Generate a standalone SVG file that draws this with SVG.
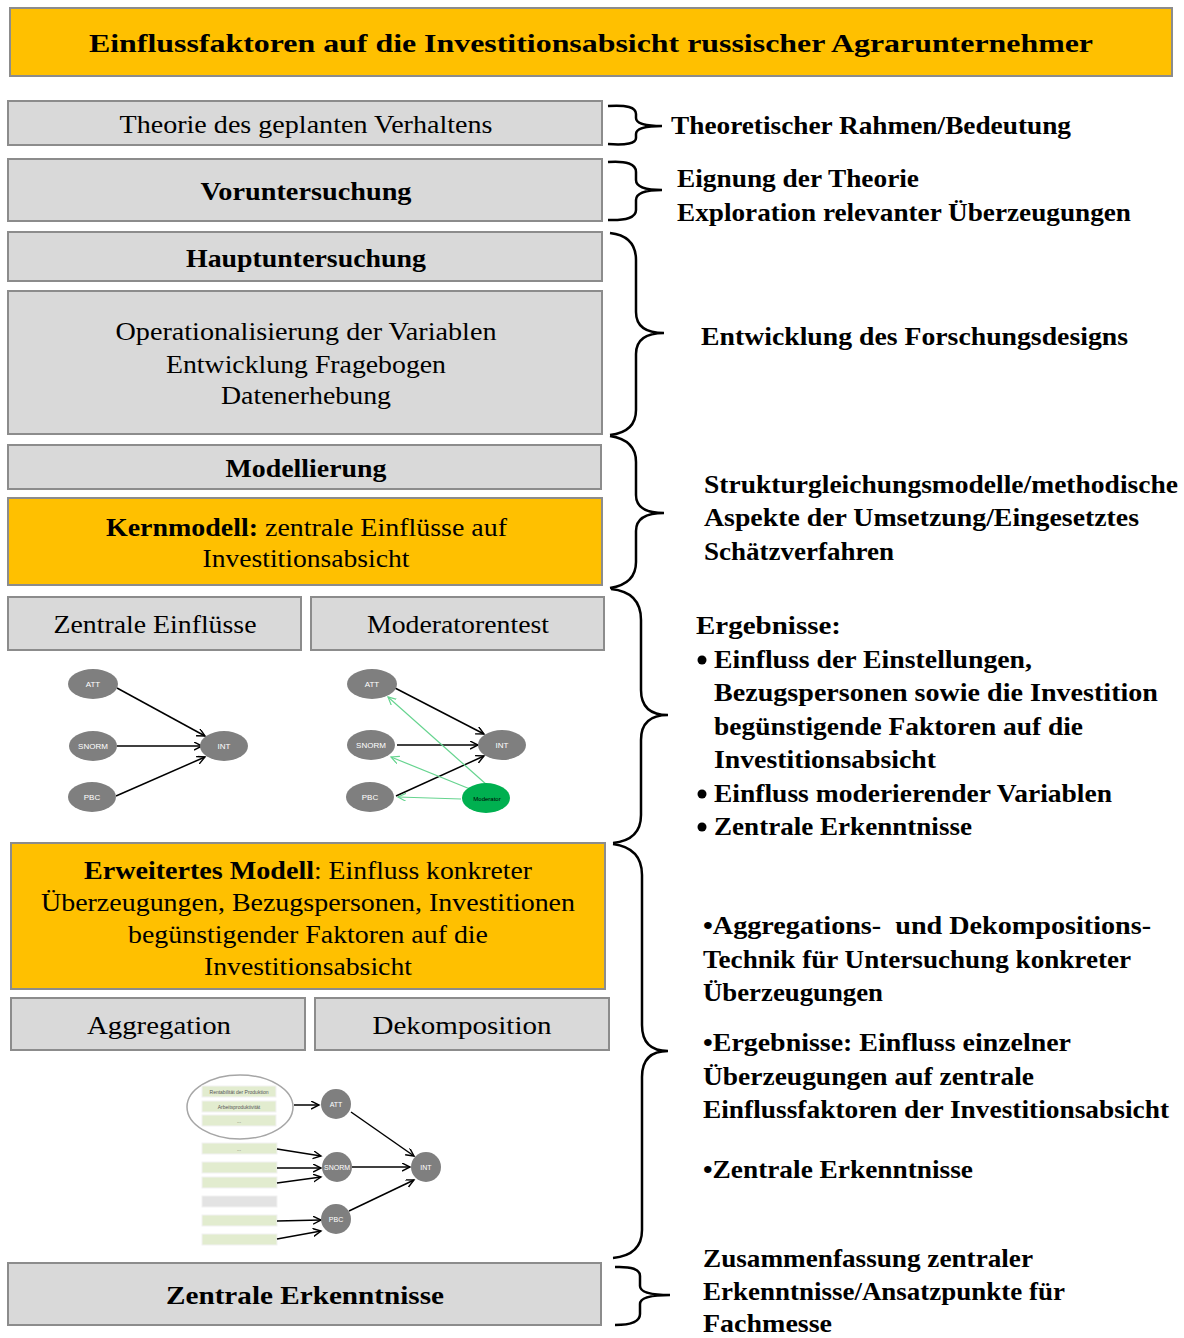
<svg xmlns="http://www.w3.org/2000/svg" width="1184" height="1338" viewBox="0 0 1184 1338">
<style>
  .box{fill:#D9D9D9;stroke:#8C8C8C;stroke-width:2}
  .obox{fill:#FFC000;stroke:#8C8C8C;stroke-width:2}
  .lt{font-family:"Liberation Serif","Times New Roman",serif;font-size:26px;fill:#000;text-anchor:middle}
  .b{font-weight:bold}
  .rt{font-family:"Liberation Serif","Times New Roman",serif;font-size:26px;font-weight:bold;fill:#000}
  .brace{fill:none;stroke:#000;stroke-width:2.5}
  .node{fill:#7F7F7F}
  .nt{font-family:"Liberation Sans",Arial,sans-serif;font-size:8px;fill:#fff;text-anchor:middle}
  .arr{stroke:#000;stroke-width:1.5;fill:none;marker-end:url(#ah)}
  .garr{stroke:#66D48F;stroke-width:1.2;fill:none;marker-end:url(#gah)}
  .gb{fill:#E2ECCF;stroke:#F2F2F2;stroke-width:1}
  .gt{font-family:"Liberation Sans",Arial,sans-serif;font-size:5px;fill:#555;text-anchor:middle}
</style>
<defs>
  <marker id="ah" markerWidth="10" markerHeight="10" refX="8" refY="4" orient="auto" markerUnits="userSpaceOnUse">
    <path d="M0,0 L8,4 L0,8" fill="none" stroke="#000" stroke-width="1.4"/>
  </marker>
  <marker id="gah" markerWidth="10" markerHeight="10" refX="8" refY="4" orient="auto" markerUnits="userSpaceOnUse">
    <path d="M0,0 L8,4 L0,8" fill="none" stroke="#66D48F" stroke-width="1.2"/>
  </marker>
</defs>
<rect width="1184" height="1338" fill="#fff"/>

<!-- title -->
<g id="title">
  <rect x="10" y="8" width="1162" height="68" class="obox"/>
  <text x="591" y="52" class="lt b" font-size="28" textLength="1004" lengthAdjust="spacingAndGlyphs">Einflussfaktoren auf die Investitionsabsicht russischer Agrarunternehmer</text>
</g>

<!-- left column -->
<g id="theorie">
  <rect x="8" y="101" width="594" height="44" class="box"/>
  <text x="306" y="133" class="lt" textLength="373" lengthAdjust="spacingAndGlyphs">Theorie des geplanten Verhaltens</text>
</g>
<g id="voruntersuchung">
  <rect x="8" y="159" width="594" height="62" class="box"/>
  <text x="306" y="200" class="lt b" textLength="211" lengthAdjust="spacingAndGlyphs">Voruntersuchung</text>
</g>
<g id="hauptuntersuchung">
  <rect x="8" y="232" width="594" height="49" class="box"/>
  <text x="306" y="267" class="lt b" textLength="240" lengthAdjust="spacingAndGlyphs">Hauptuntersuchung</text>
</g>
<g id="operationalisierung">
  <rect x="8" y="291" width="594" height="143" class="box"/>
  <text x="306" y="340" class="lt" textLength="381" lengthAdjust="spacingAndGlyphs">Operationalisierung der Variablen</text>
  <text x="306" y="373" class="lt" textLength="280" lengthAdjust="spacingAndGlyphs">Entwicklung Fragebogen</text>
  <text x="306" y="404" class="lt" textLength="170" lengthAdjust="spacingAndGlyphs">Datenerhebung</text>
</g>
<g id="modellierung">
  <rect x="8" y="445" width="593" height="44" class="box"/>
  <text x="306" y="477" class="lt b" textLength="161" lengthAdjust="spacingAndGlyphs">Modellierung</text>
</g>
<g id="kernmodell">
  <rect x="8" y="498" width="594" height="87" class="obox"/>
  <text x="106" y="536" class="lt b" style="text-anchor:start" textLength="152" lengthAdjust="spacingAndGlyphs">Kernmodell:</text>
  <text x="265" y="536" class="lt" style="text-anchor:start" textLength="242" lengthAdjust="spacingAndGlyphs">zentrale Einflüsse auf</text>
  <text x="306" y="567" class="lt" textLength="207" lengthAdjust="spacingAndGlyphs">Investitionsabsicht</text>
</g>
<g id="zentrale-einfluesse">
  <rect x="8" y="597" width="293" height="53" class="box"/>
  <text x="155" y="633" class="lt" textLength="203" lengthAdjust="spacingAndGlyphs">Zentrale Einflüsse</text>
</g>
<g id="moderatorentest">
  <rect x="311" y="597" width="293" height="53" class="box"/>
  <text x="458" y="633" class="lt" textLength="182" lengthAdjust="spacingAndGlyphs">Moderatorentest</text>
</g>

<!-- core model sketch -->
<g id="kern-graph">
  <g class="connectors">
    <line x1="117" y1="688" x2="205" y2="736" class="arr"/>
    <line x1="117" y1="746" x2="202" y2="746" class="arr"/>
    <line x1="116" y1="796" x2="205" y2="757" class="arr"/>
  </g>
  <g id="k-att"><ellipse cx="93" cy="684" rx="25" ry="15" class="node"/><text x="93" y="687" class="nt">ATT</text></g>
  <g id="k-snorm"><ellipse cx="93" cy="746" rx="24" ry="15" class="node"/><text x="93" y="749" class="nt">SNORM</text></g>
  <g id="k-pbc"><ellipse cx="92" cy="797" rx="24" ry="15" class="node"/><text x="92" y="800" class="nt">PBC</text></g>
  <g id="k-int"><ellipse cx="224" cy="746" rx="24" ry="15" class="node"/><text x="224" y="749" class="nt">INT</text></g>
</g>

<!-- moderator sketch -->
<g id="mod-graph">
  <g class="connectors">
    <line x1="395" y1="688" x2="484" y2="734" class="arr"/>
    <line x1="397" y1="745" x2="478" y2="745" class="arr"/>
    <line x1="396" y1="796" x2="484" y2="756" class="arr"/>
    <line x1="487" y1="785" x2="388" y2="697" class="garr"/>
    <line x1="470" y1="789" x2="391" y2="757" class="garr"/>
    <line x1="461" y1="799" x2="398" y2="797" class="garr"/>
  </g>
  <g id="m-att"><ellipse cx="372" cy="684" rx="25" ry="15" class="node"/><text x="372" y="687" class="nt">ATT</text></g>
  <g id="m-snorm"><ellipse cx="371" cy="745" rx="24" ry="15" class="node"/><text x="371" y="748" class="nt">SNORM</text></g>
  <g id="m-pbc"><ellipse cx="370" cy="797" rx="24" ry="15" class="node"/><text x="370" y="800" class="nt">PBC</text></g>
  <g id="m-int"><ellipse cx="502" cy="745" rx="24" ry="15" class="node"/><text x="502" y="748" class="nt">INT</text></g>
  <g id="m-moderator"><ellipse cx="486" cy="798" rx="24" ry="15" fill="#00B050"/><text x="487" y="800.5" class="nt" style="fill:#000;font-size:6px">Moderator</text></g>
</g>

<g id="erweitertes-modell">
  <rect x="11" y="843" width="594" height="146" class="obox"/>
  <text x="84" y="879" class="lt b" style="text-anchor:start" textLength="230" lengthAdjust="spacingAndGlyphs">Erweitertes Modell</text>
  <text x="314" y="879" class="lt" style="text-anchor:start" textLength="218" lengthAdjust="spacingAndGlyphs">: Einfluss konkreter</text>
  <text x="308" y="911" class="lt" textLength="534" lengthAdjust="spacingAndGlyphs">Überzeugungen, Bezugspersonen, Investitionen</text>
  <text x="308" y="943" class="lt" textLength="360" lengthAdjust="spacingAndGlyphs">begünstigender Faktoren auf die</text>
  <text x="308" y="975" class="lt" textLength="208" lengthAdjust="spacingAndGlyphs">Investitionsabsicht</text>
</g>
<g id="aggregation">
  <rect x="11" y="998" width="294" height="52" class="box"/>
  <text x="159" y="1034" class="lt" textLength="144" lengthAdjust="spacingAndGlyphs">Aggregation</text>
</g>
<g id="dekomposition">
  <rect x="315" y="998" width="294" height="52" class="box"/>
  <text x="462" y="1034" class="lt" textLength="179" lengthAdjust="spacingAndGlyphs">Dekomposition</text>
</g>

<!-- extended model sketch -->
<g id="ext-graph">
  <ellipse cx="240" cy="1107" rx="53" ry="32" fill="#fff" stroke="#A6A6A6" stroke-width="1.5"/>
  <rect x="202" y="1086" width="74" height="11" class="gb"/><text x="239" y="1093.5" class="gt">Rentabilität der Produktion</text>
  <rect x="202" y="1101" width="74" height="11" class="gb"/><text x="239" y="1108.5" class="gt">Arbeitsproduktivität</text>
  <rect x="202" y="1115" width="74" height="11" class="gb"/><text x="239" y="1122.5" class="gt">...</text>
  <rect x="202" y="1143" width="75" height="11" class="gb"/><text x="239" y="1150.5" class="gt">...</text>
  <rect x="202" y="1162" width="75" height="11" class="gb"/>
  <rect x="202" y="1177" width="75" height="11" class="gb"/>
  <rect x="202" y="1196" width="75" height="11" fill="#E3E3E3" stroke="#F2F2F2"/>
  <rect x="202" y="1215" width="75" height="11" class="gb"/>
  <rect x="202" y="1234" width="75" height="11" class="gb"/>
  <g class="connectors">
    <line x1="294" y1="1105" x2="319" y2="1105" class="arr"/>
    <line x1="277" y1="1149" x2="321" y2="1156" class="arr"/>
    <line x1="277" y1="1168" x2="321" y2="1168" class="arr"/>
    <line x1="277" y1="1183" x2="321" y2="1177" class="arr"/>
    <line x1="277" y1="1221" x2="321" y2="1220" class="arr"/>
    <line x1="277" y1="1239" x2="321" y2="1231" class="arr"/>
    <line x1="351" y1="1112" x2="414" y2="1156" class="arr"/>
    <line x1="352" y1="1167" x2="410" y2="1167" class="arr"/>
    <line x1="349" y1="1211" x2="414" y2="1180" class="arr"/>
  </g>
  <g id="e-att"><circle cx="336" cy="1104" r="15" class="node"/><text x="336" y="1107" class="nt" style="font-size:7px">ATT</text></g>
  <g id="e-snorm"><circle cx="337" cy="1167" r="15" class="node"/><text x="337" y="1170" class="nt" style="font-size:7px">SNORM</text></g>
  <g id="e-pbc"><circle cx="336" cy="1219" r="15" class="node"/><text x="336" y="1222" class="nt" style="font-size:7px">PBC</text></g>
  <g id="e-int"><circle cx="426" cy="1167" r="15" class="node"/><text x="426" y="1170" class="nt" style="font-size:7px">INT</text></g>
</g>

<g id="zentrale-erkenntnisse">
  <rect x="8" y="1263" width="593" height="62" class="box"/>
  <text x="305" y="1304" class="lt b" textLength="278" lengthAdjust="spacingAndGlyphs">Zentrale Erkenntnisse</text>
</g>

<!-- braces -->
<g id="braces">
  <path class="brace" d="M608,106 Q636,104 636,114 L636,118 Q636,126 662,126 Q636,126 636,134 L636,138 Q636,146 608,144"/>
  <path class="brace" d="M608,162 Q636,160 636,172 L636,180 Q636,190 662,190 Q636,190 636,200 L636,210 Q636,221 608,220"/>
  <path class="brace" d="M610,233 Q636,236 636,260 L636,312 Q636,333 664,333 Q636,333 636,354 L636,410 Q636,432 610,435"/>
  <path class="brace" d="M610,436 Q636,440 636,462 L636,495 Q636,513 664,513 Q636,513 636,531 L636,562 Q636,584 610,588"/>
  <path class="brace" d="M611,589 Q641,592 641,620 L641,690 Q641,715 668,715 Q641,715 641,740 L641,815 Q641,840 613,843"/>
  <path class="brace" d="M613,844 Q642,848 642,875 L642,1025 Q642,1051 668,1051 Q642,1051 642,1077 L642,1230 Q642,1255 613,1258"/>
  <path class="brace" d="M615,1267 Q640,1266 640,1276 L640,1286 Q640,1295 670,1295 Q640,1295 640,1304 L640,1314 Q640,1325 615,1325"/>
</g>

<!-- right-hand notes -->
<g id="notes">
  <text x="671" y="134" class="rt" textLength="400" lengthAdjust="spacingAndGlyphs">Theoretischer Rahmen/Bedeutung</text>
  <text x="677" y="187" class="rt" textLength="242" lengthAdjust="spacingAndGlyphs">Eignung der Theorie</text>
  <text x="677" y="221" class="rt" textLength="454" lengthAdjust="spacingAndGlyphs">Exploration relevanter Überzeugungen</text>
  <text x="701" y="345" class="rt" textLength="427" lengthAdjust="spacingAndGlyphs">Entwicklung des Forschungsdesigns</text>
  <text x="704" y="493" class="rt" textLength="474" lengthAdjust="spacingAndGlyphs">Strukturgleichungsmodelle/methodische</text>
  <text x="704" y="526" class="rt" textLength="435" lengthAdjust="spacingAndGlyphs">Aspekte der Umsetzung/Eingesetztes</text>
  <text x="704" y="560" class="rt" textLength="190" lengthAdjust="spacingAndGlyphs">Schätzverfahren</text>
  <text x="696" y="634" class="rt" textLength="145" lengthAdjust="spacingAndGlyphs">Ergebnisse:</text>
  <circle cx="702" cy="660" r="4.5"/>
  <text x="714" y="668" class="rt" textLength="318" lengthAdjust="spacingAndGlyphs">Einfluss der Einstellungen,</text>
  <text x="714" y="701" class="rt" textLength="444" lengthAdjust="spacingAndGlyphs">Bezugspersonen sowie die Investition</text>
  <text x="714" y="735" class="rt" textLength="369" lengthAdjust="spacingAndGlyphs">begünstigende Faktoren auf die</text>
  <text x="714" y="768" class="rt" textLength="222" lengthAdjust="spacingAndGlyphs">Investitionsabsicht</text>
  <circle cx="702" cy="794" r="4.5"/>
  <text x="714" y="802" class="rt" textLength="398" lengthAdjust="spacingAndGlyphs">Einfluss moderierender Variablen</text>
  <circle cx="702" cy="827" r="4.5"/>
  <text x="714" y="835" class="rt" textLength="258" lengthAdjust="spacingAndGlyphs">Zentrale Erkenntnisse</text>
  <text x="703" y="934" class="rt" textLength="448" lengthAdjust="spacingAndGlyphs" xml:space="preserve">•Aggregations-  und Dekompositions-</text>
  <text x="703" y="968" class="rt" textLength="428" lengthAdjust="spacingAndGlyphs">Technik für Untersuchung konkreter</text>
  <text x="703" y="1001" class="rt" textLength="180" lengthAdjust="spacingAndGlyphs">Überzeugungen</text>
  <text x="703" y="1051" class="rt" textLength="368" lengthAdjust="spacingAndGlyphs">•Ergebnisse: Einfluss einzelner</text>
  <text x="703" y="1085" class="rt" textLength="331" lengthAdjust="spacingAndGlyphs">Überzeugungen auf zentrale</text>
  <text x="703" y="1118" class="rt" textLength="466" lengthAdjust="spacingAndGlyphs">Einflussfaktoren der Investitionsabsicht</text>
  <text x="703" y="1178" class="rt" textLength="270" lengthAdjust="spacingAndGlyphs">•Zentrale Erkenntnisse</text>
  <text x="703" y="1267" class="rt" textLength="330" lengthAdjust="spacingAndGlyphs">Zusammenfassung zentraler</text>
  <text x="703" y="1300" class="rt" textLength="362" lengthAdjust="spacingAndGlyphs">Erkenntnisse/Ansatzpunkte für</text>
  <text x="703" y="1332" class="rt" textLength="129" lengthAdjust="spacingAndGlyphs">Fachmesse</text>
</g>
</svg>
